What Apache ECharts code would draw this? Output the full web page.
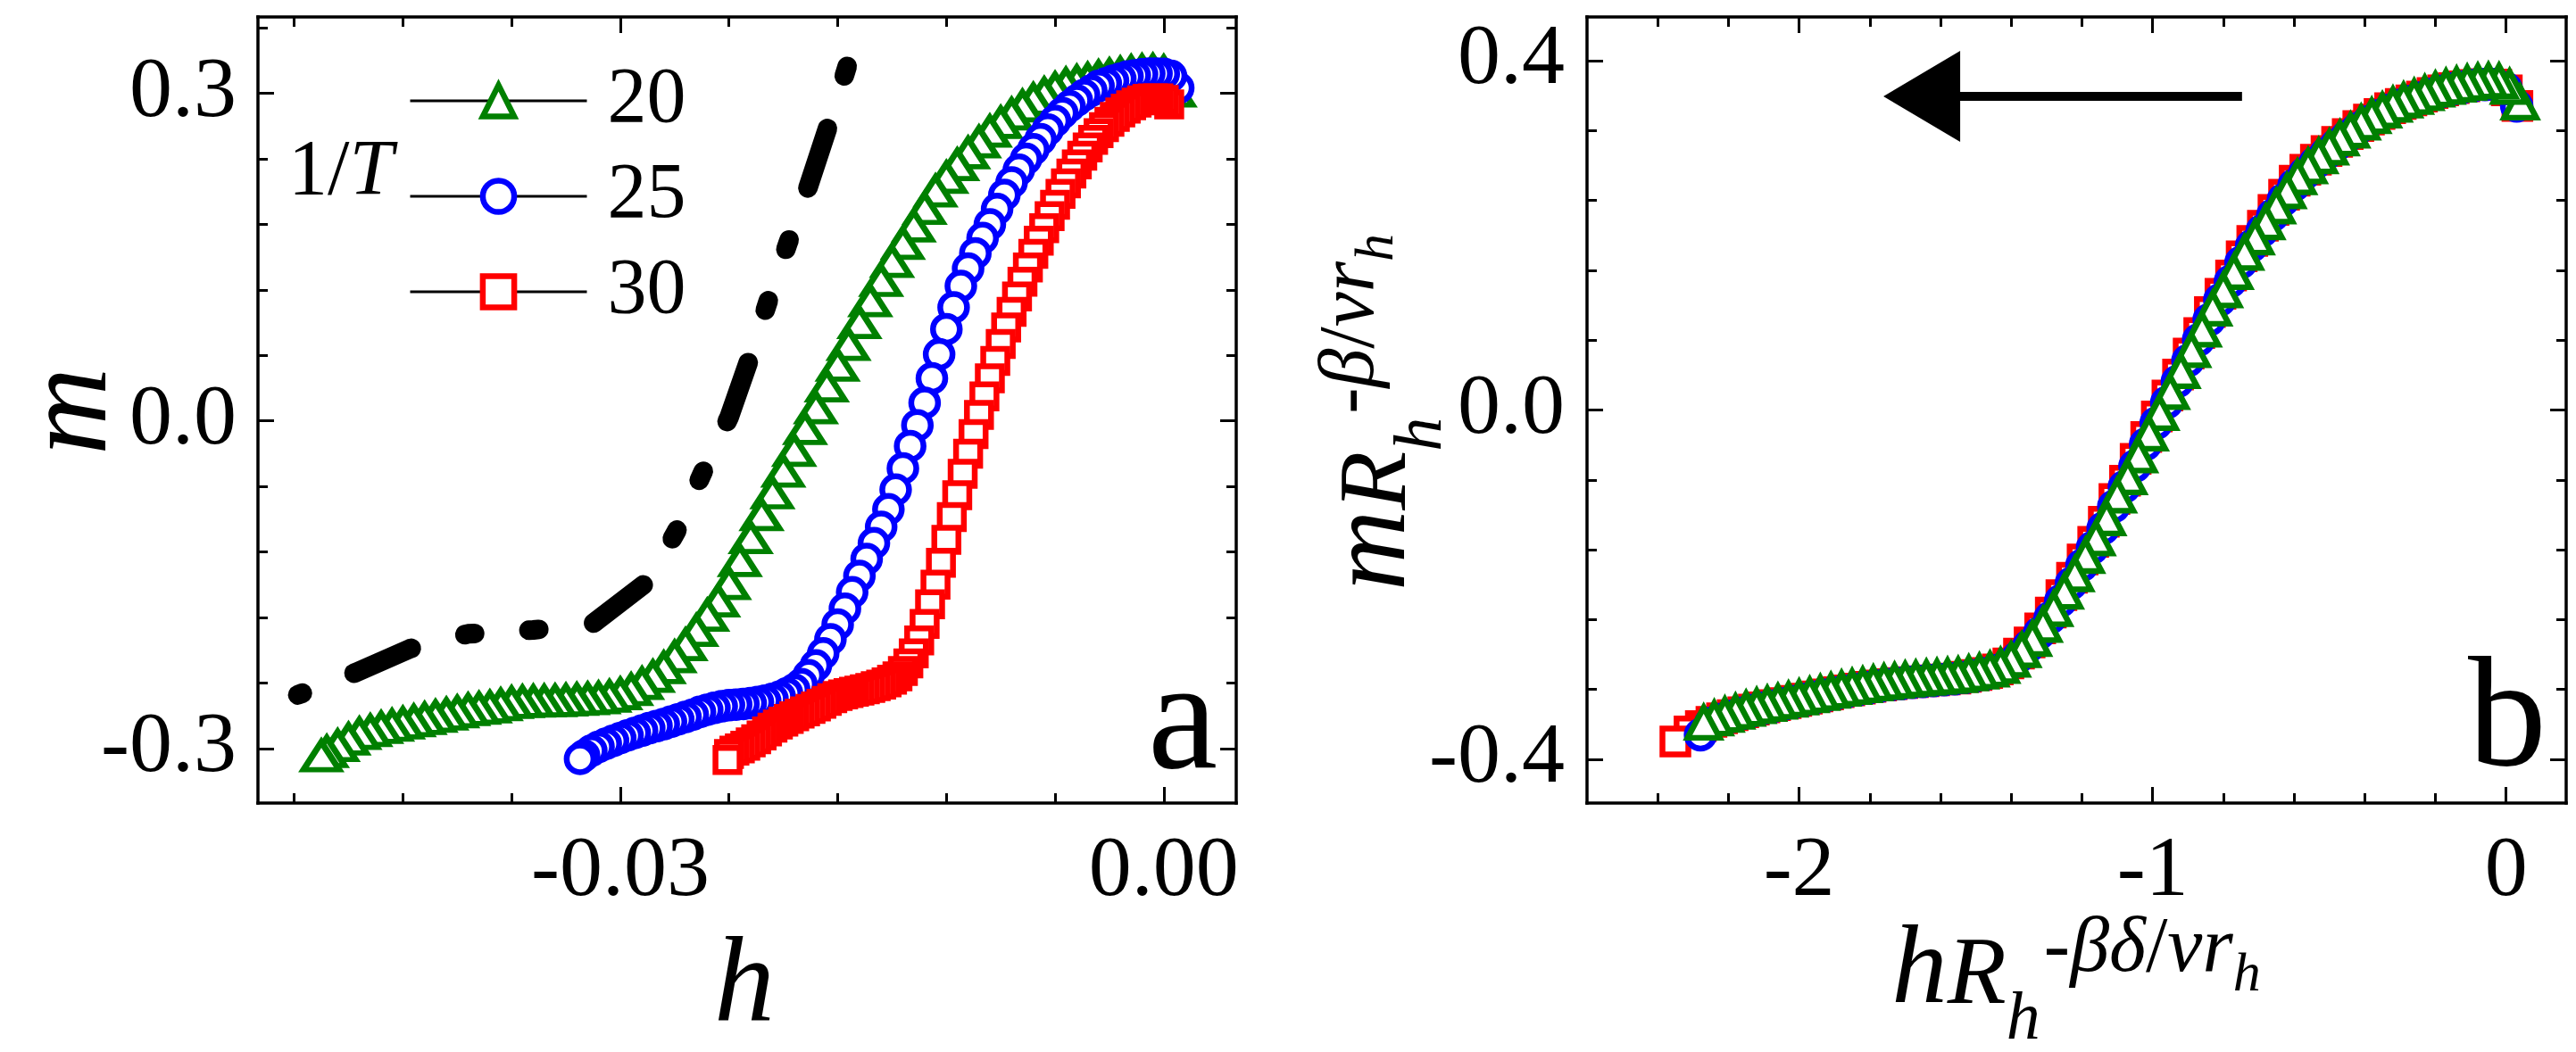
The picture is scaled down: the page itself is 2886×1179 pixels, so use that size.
<!DOCTYPE html>
<html><head><meta charset="utf-8">
<script src="https://cdn.jsdelivr.net/npm/echarts@6.0.0/dist/echarts.min.js"></script>
<style>html,body{margin:0;padding:0;background:#fff}#c{width:2886px;height:1179px}</style>
</head><body><div id="c"></div>
<script>
// ---------- tick values and labels ----------
const aXTicks = [-0.03, 0];            const aXTickLabels = ['-0.03', '0.00'];
const aXMinor = [-0.048, -0.042, -0.036, -0.024, -0.018, -0.012, -0.006];
const aYTicks = [-0.3, 0, 0.3];        const aYTickLabels = ['-0.3', '0.0', '0.3'];
const aYMinor = [-0.24, -0.18, -0.12, -0.06, 0.06, 0.12, 0.18, 0.24, 0.36];
const bXTicks = [-2, -1, 0];           const bXTickLabels = ['-2', '-1', '0'];
const bXMinor = [-2.4, -2.2, -1.8, -1.6, -1.4, -1.2, -0.8, -0.6, -0.4, -0.2];
const bYTicks = [-0.4, 0, 0.4];        const bYTickLabels = ['-0.4', '0.0', '0.4'];
const bYMinor = [-0.32, -0.24, -0.16, -0.08, 0.08, 0.16, 0.24, 0.32];
const seriesNames = ['20', '25', '30'];   // 1/T

// ---------- panel a : h , m ----------
const gaH = [0.0006,0,-0.0006,-0.0012,-0.0018,-0.0024,-0.003,-0.0036,-0.0042,-0.0048,
-0.0054,-0.006,-0.0066,-0.0072,-0.0078,-0.0084,-0.009,-0.0096,-0.0102,-0.0108,
-0.0114,-0.012,-0.0126,-0.0132,-0.0138,-0.0144,-0.015,-0.0156,-0.0162,-0.0168,
-0.0174,-0.018,-0.0186,-0.0192,-0.0198,-0.0204,-0.021,-0.0216,-0.0222,-0.0228,
-0.0234,-0.024,-0.0246,-0.0252,-0.0258,-0.0264,-0.027,-0.0276,-0.0282,-0.0288,
-0.0294,-0.03,-0.0306,-0.0312,-0.0318,-0.0324,-0.033,-0.0336,-0.0342,-0.0348,
-0.0354,-0.036,-0.0366,-0.0372,-0.0378,-0.0384,-0.039,-0.0396,-0.0402,-0.0408,
-0.0414,-0.042,-0.0426,-0.0432,-0.0438,-0.0444,-0.045,-0.0456,-0.0462,-0.0465];
const gaM = [0.302,0.320,0.3212,0.3208,0.3200,0.3185,0.3170,0.3153,0.3130,0.3110,
0.3085,0.3045,0.2998,0.2945,0.2883,0.2810,0.2733,0.2652,0.2554,0.2455,
0.2347,0.2230,0.2105,0.1945,0.1785,0.1625,0.1460,0.1285,0.1100,0.0900,
0.0700,0.0510,0.0320,0.0120,-0.0070,-0.0270,-0.0460,-0.0660,-0.0860,-0.1070,
-0.1280,-0.1490,-0.1650,-0.1780,-0.1920,-0.2050,-0.2160,-0.2260,-0.2340,-0.2405,
-0.2462,-0.2500,-0.2522,-0.2537,-0.2545,-0.2551,-0.2558,-0.2563,-0.2566,-0.2568,
-0.2572,-0.2580,-0.2600,-0.2620,-0.2632,-0.2645,-0.2665,-0.2686,-0.2706,-0.2727,
-0.2747,-0.2768,-0.2789,-0.2809,-0.2837,-0.2864,-0.2915,-0.2975,-0.3030,-0.3068];

const baH = [0.0008,0.0004,0,-0.0004,-0.0008,-0.0012,-0.0016,-0.002,-0.0024,-0.0028,
-0.0032,-0.0036,-0.004,-0.0044,-0.0048,-0.0052,-0.0056,-0.006,-0.0064,-0.0068,
-0.0072,-0.0076,-0.008,-0.0084,-0.0088,-0.0092,-0.0096,-0.01,-0.0104,-0.0108,
-0.0112,-0.0116,-0.012,-0.0124,-0.0128,-0.0132,-0.0136,-0.014,-0.0144,-0.0148,
-0.0152,-0.0156,-0.016,-0.0164,-0.0168,-0.0172,-0.0176,-0.018,-0.0184,-0.0188,
-0.0192,-0.0196,-0.02,-0.0204,-0.0208,-0.0212,-0.0216,-0.022,-0.0224,-0.0228,
-0.0232,-0.0236,-0.024,-0.0244,-0.0248,-0.0252,-0.0256,-0.026,-0.0264,-0.0268,
-0.0272,-0.0276,-0.028,-0.0284,-0.0288,-0.0292,-0.0296,-0.03,-0.0304,-0.0308,
-0.0312,-0.0316,-0.032,-0.03222];
const baM = [0.305,0.316,0.318,0.3182,0.3181,0.3175,0.3165,0.3155,0.3135,0.3115,
0.3092,0.3068,0.3025,0.2985,0.2935,0.2882,0.2820,0.2748,0.2668,0.2580,
0.2488,0.2400,0.2300,0.2185,0.2070,0.1940,0.1800,0.1675,0.1535,0.1395,
0.1235,0.1040,0.0840,0.0610,0.0390,0.0165,-0.0040,-0.0230,-0.0435,-0.0630,
-0.0810,-0.0970,-0.1120,-0.1265,-0.1420,-0.1570,-0.1720,-0.1865,-0.2000,-0.2130,
-0.2240,-0.2330,-0.2410,-0.2460,-0.2495,-0.2525,-0.2545,-0.2563,-0.2575,-0.2585,
-0.2592,-0.2598,-0.2603,-0.2614,-0.2628,-0.2645,-0.2665,-0.2690,-0.2712,-0.2733,
-0.2755,-0.2777,-0.2795,-0.2814,-0.2836,-0.2858,-0.2880,-0.2905,-0.2930,-0.2957,
-0.2985,-0.3020,-0.3065,-0.3095];

const raH = [0.0003,0,-0.0003,-0.0006,-0.0009,-0.0012,-0.0015,-0.0018,-0.0021,-0.0024,
-0.0027,-0.003,-0.0033,-0.0036,-0.0039,-0.0042,-0.0045,-0.0048,-0.0051,-0.0054,
-0.0057,-0.006,-0.0063,-0.0066,-0.0069,-0.0072,-0.0075,-0.0078,-0.0081,-0.0084,
-0.0087,-0.009,-0.0093,-0.0096,-0.0099,-0.0102,-0.0105,-0.0108,-0.0111,-0.0114,
-0.0117,-0.012,-0.0123,-0.0126,-0.0129,-0.0132,-0.0135,-0.0138,-0.0141,-0.0144,
-0.0147,-0.015,-0.0153,-0.0156,-0.0159,-0.0162,-0.0165,-0.0168,-0.0171,-0.0174,
-0.0177,-0.018,-0.0183,-0.0186,-0.0189,-0.0192,-0.0195,-0.0198,-0.0201,-0.0204,
-0.0207,-0.021,-0.0213,-0.0216,-0.0219,-0.0222,-0.0225,-0.0228,-0.0231,-0.0234,
-0.0237,-0.024,-0.02408];
const raM = [0.290,0.294,0.2955,0.2955,0.2950,0.2935,0.2915,0.2890,0.2860,0.2825,
0.2785,0.2740,0.2690,0.2635,0.2575,0.2505,0.2430,0.2350,0.2265,0.2175,
0.2080,0.1980,0.1875,0.1765,0.1650,0.1530,0.1405,0.1275,0.1140,0.1000,
0.0855,0.0705,0.0550,0.0390,0.0225,0.0055,-0.0120,-0.0300,-0.0485,-0.0680,
-0.0880,-0.1090,-0.1300,-0.1500,-0.1680,-0.1860,-0.2010,-0.2130,-0.2220,-0.2290,
-0.2340,-0.2370,-0.2395,-0.2415,-0.2430,-0.2445,-0.2458,-0.2470,-0.2480,-0.2492,
-0.2505,-0.2520,-0.2540,-0.2565,-0.2590,-0.2615,-0.2638,-0.2660,-0.2680,-0.2705,
-0.2730,-0.2755,-0.2780,-0.2810,-0.2845,-0.2880,-0.2915,-0.2945,-0.2975,-0.3000,
-0.3020,-0.3050,-0.3105];

// thick dash-dot-dot guide curve in panel a
const guideH = [-0.0478,-0.0446,-0.0416,-0.0384,-0.0348,-0.0315,-0.0284,-0.0269,-0.02547,-0.024,-0.02284,-0.02187,-0.02074,-0.01963,-0.01856,-0.01758,-0.0166];
const guideM = [-0.251,-0.2305,-0.2086,-0.195,-0.1915,-0.1855,-0.146,-0.101,-0.048,0.003,0.058,0.108,0.163,0.214,0.268,0.319,0.372];

// ---------- panel b : scaled h , scaled m ----------
const gbH = [0.04,0.01,-0.02,-0.05,-0.08,-0.11,-0.14,-0.17,-0.2,-0.23,
-0.26,-0.29,-0.32,-0.35,-0.38,-0.41,-0.44,-0.47,-0.5,-0.53,
-0.56,-0.59,-0.62,-0.65,-0.68,-0.71,-0.74,-0.77,-0.8,-0.83,
-0.86,-0.89,-0.92,-0.95,-0.98,-1.01,-1.04,-1.07,-1.1,-1.13,
-1.16,-1.19,-1.22,-1.25,-1.28,-1.31,-1.34,-1.37,-1.4,-1.43,
-1.46,-1.49,-1.52,-1.55,-1.58,-1.61,-1.64,-1.67,-1.7,-1.73,
-1.76,-1.79,-1.82,-1.85,-1.88,-1.91,-1.94,-1.97,-2,-2.03,
-2.06,-2.09,-2.12,-2.15,-2.18,-2.21,-2.24,-2.27];
const gbM = [0.352,0.370,0.3765,0.3770,0.3762,0.3745,0.3725,0.3700,0.3670,0.3628,
0.3585,0.3545,0.3495,0.3430,0.3365,0.3290,0.3200,0.3110,0.3005,0.2905,
0.2790,0.2665,0.2505,0.2330,0.2150,0.1975,0.1800,0.1580,0.1370,0.1160,
0.0920,0.0685,0.0445,0.0205,-0.0035,-0.0270,-0.0520,-0.0770,-0.0980,-0.1240,
-0.1470,-0.1670,-0.1880,-0.2080,-0.2280,-0.2460,-0.2620,-0.2750,-0.2860,-0.2930,
-0.2970,-0.2995,-0.3015,-0.3035,-0.3045,-0.3055,-0.3065,-0.3075,-0.3085,-0.3100,
-0.3115,-0.3130,-0.3150,-0.3170,-0.3190,-0.3215,-0.3240,-0.3265,-0.3290,-0.3315,
-0.3340,-0.3365,-0.3390,-0.3420,-0.3455,-0.3490,-0.3530,-0.3580];

const bbH = [0.03,0,-0.03,-0.06,-0.09,-0.12,-0.15,-0.18,-0.21,-0.24,
-0.27,-0.3,-0.33,-0.36,-0.39,-0.42,-0.45,-0.48,-0.51,-0.54,
-0.57,-0.6,-0.63,-0.66,-0.69,-0.72,-0.75,-0.78,-0.81,-0.84,
-0.87,-0.9,-0.93,-0.96,-0.99,-1.02,-1.05,-1.08,-1.11,-1.14,
-1.17,-1.2,-1.23,-1.26,-1.29,-1.32,-1.35,-1.38,-1.41,-1.44,
-1.47,-1.5,-1.53,-1.56,-1.59,-1.62,-1.65,-1.68,-1.71,-1.74,
-1.77,-1.8,-1.83,-1.86,-1.89,-1.92,-1.95,-1.98,-2.01,-2.04,
-2.07,-2.1,-2.13,-2.16,-2.19,-2.22,-2.25,-2.279];
const bbM = [0.348,0.368,0.3727,0.3727,0.3716,0.3698,0.3677,0.3650,0.3616,0.3574,
0.3532,0.3488,0.3433,0.3368,0.3300,0.3220,0.3130,0.3035,0.2932,0.2827,
0.2708,0.2572,0.2407,0.2230,0.2052,0.1877,0.1687,0.1470,0.1260,0.1033,
0.0802,0.0565,0.0325,0.0085,-0.0152,-0.0393,-0.0643,-0.0880,-0.1107,-0.1357,
-0.1577,-0.1780,-0.1987,-0.2187,-0.2380,-0.2553,-0.2703,-0.2827,-0.2923,-0.2983,
-0.3018,-0.3042,-0.3062,-0.3078,-0.3088,-0.3098,-0.3108,-0.3118,-0.3130,-0.3145,
-0.3160,-0.3177,-0.3197,-0.3217,-0.3238,-0.3263,-0.3288,-0.3313,-0.3338,-0.3363,
-0.3388,-0.3413,-0.3440,-0.3472,-0.3507,-0.3543,-0.3587,-0.3718];

const rbH = [0.032,0.002,-0.028,-0.058,-0.088,-0.118,-0.148,-0.178,-0.208,-0.238,
-0.268,-0.298,-0.328,-0.358,-0.388,-0.418,-0.448,-0.478,-0.508,-0.538,
-0.568,-0.598,-0.628,-0.658,-0.688,-0.718,-0.748,-0.778,-0.808,-0.838,
-0.868,-0.898,-0.928,-0.958,-0.988,-1.018,-1.048,-1.078,-1.108,-1.138,
-1.168,-1.198,-1.228,-1.258,-1.288,-1.318,-1.348,-1.378,-1.408,-1.438,
-1.468,-1.498,-1.528,-1.558,-1.588,-1.618,-1.648,-1.678,-1.708,-1.738,
-1.768,-1.798,-1.828,-1.858,-1.888,-1.918,-1.948,-1.978,-2.008,-2.038,
-2.068,-2.098,-2.128,-2.158,-2.188,-2.218,-2.248,-2.278,-2.31,-2.35];
const rbM = [0.348,0.366,0.3725,0.373,0.3722,0.3705,0.3685,0.366,0.363,0.3588,
0.3545,0.3505,0.3455,0.339,0.3325,0.325,0.316,0.307,0.2965,0.2865,
0.275,0.2625,0.2465,0.229,0.211,0.1935,0.176,0.154,0.133,0.112,
0.088,0.0645,0.0405,0.0165,-0.0075,-0.031,-0.056,-0.081,-0.102,-0.128,
-0.151,-0.171,-0.192,-0.212,-0.232,-0.25,-0.266,-0.279,-0.29,-0.297,
-0.301,-0.3035,-0.3055,-0.3075,-0.3085,-0.3095,-0.3105,-0.3115,-0.3125,-0.314,
-0.3155,-0.317,-0.319,-0.321,-0.323,-0.3255,-0.328,-0.3305,-0.333,-0.3355,
-0.338,-0.3405,-0.343,-0.346,-0.3495,-0.353,-0.357,-0.362,-0.368,-0.3796];

// sweep-direction arrow in panel b (data coordinates)
const arrowFrom = [-0.747, 0.359];
const arrowTo = [-1.653, 0.359];

// ---------- building ----------
const FONT = "'Liberation Serif','Times New Roman',serif";
const GREEN = '#008000', BLUE = '#0000ff', RED = '#ff0000';
const STROKE = 6.5;
const zip = (a, b) => a.map((v, i) => [v, b[i]]);

function mkAxes(grid, dim, min, max, major, minor, labels, fs, margin) {
  const isX = dim === 'x';
  const pos = isX ? ['bottom', 'top', 'bottom', 'top'] : ['left', 'right', 'left', 'right'];
  const fmt = v => { const i = major.findIndex(t => Math.abs(t - v) < 1e-9); return i < 0 ? '' : labels[i]; };
  const base = { gridIndex: grid, type: 'value', min, max, splitLine: { show: false }, silent: true };
  const line = { show: true, onZero: false, lineStyle: { color: '#000', width: 3.5, cap: 'square' } };
  const noLine = { show: false, onZero: false };
  const tick = (vals, len) => ({ show: true, inside: true, length: len, lineStyle: { color: '#000', width: 3 }, customValues: vals });
  return [
    Object.assign({}, base, { position: pos[0], axisLine: line, axisTick: tick(major, 18),
      axisLabel: { show: true, customValues: major, formatter: fmt, color: '#000', fontFamily: FONT, fontSize: fs, margin } }),
    Object.assign({}, base, { position: pos[1], axisLine: line, axisTick: tick(major, 18), axisLabel: { show: false } }),
    Object.assign({}, base, { position: pos[2], axisLine: noLine, axisTick: tick(minor, 11), axisLabel: { show: false } }),
    Object.assign({}, base, { position: pos[3], axisLine: noLine, axisTick: tick(minor, 11), axisLabel: { show: false } })
  ];
}

function markers(name, xs, ys, axisIdx, symbol, size, color, extra) {
  return Object.assign({
    type: 'line', name, xAxisIndex: axisIdx, yAxisIndex: axisIdx, data: zip(xs, ys),
    symbol, symbolSize: size, showSymbol: true, showAllSymbol: true,
    lineStyle: { width: 0, opacity: 0 },
    itemStyle: { color: '#fff', borderColor: color, borderWidth: STROKE },
    emphasis: { disabled: true }, z: 3
  }, extra || {});
}

// text composed of pieces (sub/superscripts) laid along a baseline
const mctx = document.createElement('canvas').getContext('2d');
const fnt = p => (p.it ? 'italic ' : '') + p.s + 'px ' + FONT;
const wid = p => { mctx.font = fnt(p); return mctx.measureText(p.t).width; };
function composed(pieces, x0, baseline, rot, align) {
  let x = 0; const kids = [];
  pieces.forEach(p => {
    kids.push({ type: 'text', x: x + (p.dx || 0), y: (p.dy || 0) - 0.3375 * p.s,
      style: { text: p.t, font: fnt(p), fill: '#000', align: 'left', verticalAlign: 'middle' } });
    x += wid(p) + (p.dx || 0);
  });
  const shift = align === 'left' ? 0 : (align === 'right' ? x : x / 2);
  kids.forEach(k => { k.x -= shift; });
  return rot ? { type: 'group', x: baseline, y: x0, rotation: rot, children: kids, silent: true }
             : { type: 'group', x: x0, y: baseline, children: kids, silent: true };
}

const xAxes = [].concat(
  mkAxes(0, 'x', -0.05, 0.004, aXTicks, aXMinor, aXTickLabels, 96, 30),
  mkAxes(1, 'x', -2.6, 0.17, bXTicks, bXMinor, bXTickLabels, 96, 30));
const yAxes = [].concat(
  mkAxes(0, 'y', -0.35, 0.37, aYTicks, aYMinor, aYTickLabels, 96, 24),
  mkAxes(1, 'y', -0.45, 0.45, bYTicks, bYMinor, bYTickLabels, 96, 25));

const supB = -37, subB = 38;
const option = {
  animation: false,
  backgroundColor: '#fff',
  textStyle: { fontFamily: FONT },
  grid: [
    { left: 289, top: 19, width: 1096, height: 881 },
    { left: 1778, top: 19, width: 1097, height: 881 }
  ],
  xAxis: xAxes,
  yAxis: yAxes,
  legend: {
    orient: 'vertical', left: 458, top: 69, padding: 0,
    itemWidth: 198, itemHeight: 44, itemGap: 19, selectedMode: false,
    data: seriesNames,
    itemStyle: { borderWidth: STROKE },
    textStyle: { fontFamily: FONT, fontSize: 88, color: '#000', padding: [0, 0, 0, 18] },
    lineStyle: { color: '#000', width: 3, opacity: 1, type: 'solid' }
  },
  series: [
    { type: 'line', name: 'guide', xAxisIndex: 0, yAxisIndex: 0, data: zip(guideH, guideM),
      symbol: 'none', silent: true, z: 2,
      lineStyle: { color: '#000', width: 22, cap: 'round', join: 'round', type: [70, 62, 11, 61, 11, 62], dashOffset: 209.5 } },
    markers(seriesNames[0], gaH, gaM, 0, 'triangle', [40, 31], GREEN),
    markers(seriesNames[1], baH, baM, 0, 'circle', 30, BLUE),
    markers(seriesNames[2], raH, raM, 0, 'rect', 27, RED),
    markers(seriesNames[2], rbH, rbM, 4, 'rect', 29, RED),
    markers(seriesNames[1], bbH, bbM, 4, 'circle', 31, BLUE),
    markers(seriesNames[0], gbH, gbM, 4, 'triangle', [36, 34], GREEN, {
      markLine: {
        silent: true, animation: false, label: { show: false },
        symbol: ['none', 'triangle'], symbolSize: 96,
        lineStyle: { color: '#000', width: 10, type: 'solid', opacity: 1 },
        data: [[{ coord: arrowFrom, symbol: 'none' }, { coord: arrowTo, symbol: 'triangle', symbolSize: [102, 86] }]]
      }
    })
  ],
  graphic: { elements: [
    composed([{ t: 'm', s: 136, it: true }], 461, 128, Math.PI / 2),
    composed([{ t: 'h', s: 136, it: true }], 834, 1153, 0),
    composed([{ t: 'h', s: 125, it: true }, { t: 'R', s: 108, it: true }, { t: 'h', s: 76, it: true, dy: subB },
              { t: '-', s: 88, dy: supB, dx: 4 }, { t: 'βδ', s: 88, it: true, dy: supB }, { t: '/', s: 88, dy: supB },
              { t: 'ν', s: 88, it: true, dy: supB }, { t: 'r', s: 88, it: true, dy: supB }, { t: 'h', s: 62, it: true, dy: -17 }],
             2326, 1132, 0),
    composed([{ t: 'm', s: 125, it: true }, { t: 'R', s: 108, it: true }, { t: 'h', s: 76, it: true, dy: subB },
              { t: '-', s: 88, dy: supB, dx: 4 }, { t: 'β', s: 88, it: true, dy: supB }, { t: '/', s: 88, dy: supB },
              { t: 'ν', s: 88, it: true, dy: supB }, { t: 'r', s: 88, it: true, dy: supB }, { t: 'h', s: 62, it: true, dy: -17 }],
             462, 1582, Math.PI / 2),
    composed([{ t: '1/', s: 88 }, { t: 'T', s: 88, it: true }], 323, 224, 0, 'left'),
    composed([{ t: 'a', s: 176 }], 1364, 873, 0, 'right'),
    composed([{ t: 'b', s: 176 }], 2853, 870, 0, 'right')
  ] }
};

const chart = echarts.init(document.getElementById('c'), null, { renderer: 'canvas' });
chart.setOption(option);
</script></body></html>
